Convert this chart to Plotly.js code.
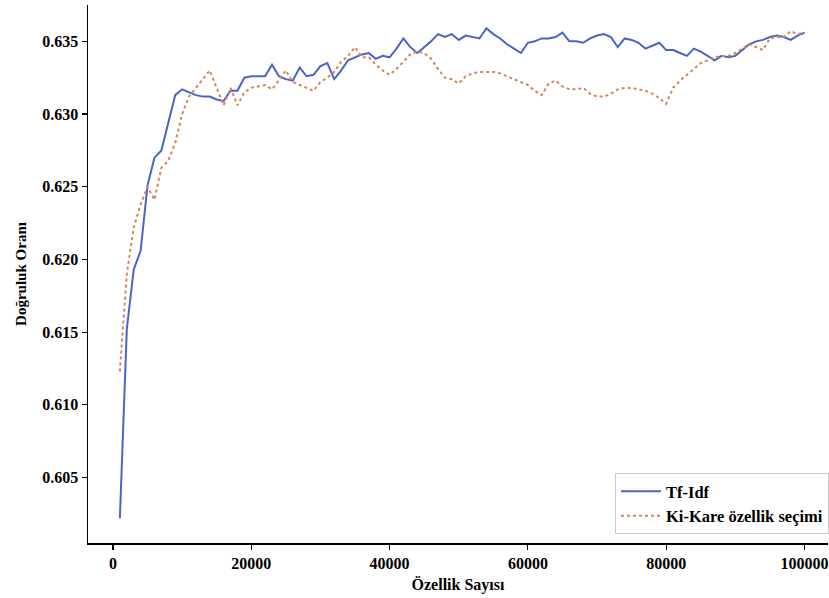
<!DOCTYPE html>
<html>
<head>
<meta charset="utf-8">
<script src="https://cdn.plot.ly/plotly-3.0.1.min.js"></script>
<style>html,body{margin:0;padding:0;background:#fff;}#chart{width:829px;height:598px;}</style>
</head>
<body>
<div id="chart"></div>
<script>
// Özellik sayısı (x)
const featureCounts = [
  1000,2000,3000,4000,5000,6000,7000,8000,9000,10000,
  11000,12000,13000,14000,15000,16000,17000,18000,19000,20000,
  21000,22000,23000,24000,25000,26000,27000,28000,29000,30000,
  31000,32000,33000,34000,35000,36000,37000,38000,39000,40000,
  41000,42000,43000,44000,45000,46000,47000,48000,49000,50000,
  51000,52000,53000,54000,55000,56000,57000,58000,59000,60000,
  61000,62000,63000,64000,65000,66000,67000,68000,69000,70000,
  71000,72000,73000,74000,75000,76000,77000,78000,79000,80000,
  81000,82000,83000,84000,85000,86000,87000,88000,89000,90000,
  91000,92000,93000,94000,95000,96000,97000,98000,99000,100000
];

// Tf-Idf doğruluk oranı
const tfidfAcc = [
  0.6022,0.6152,0.6193,0.6206,0.6251,0.6270,0.6275,0.6295,0.6313,0.6317,
  0.6315,0.6313,0.6312,0.6312,0.6310,0.6309,0.6316,0.6316,0.6325,0.6326,
  0.6326,0.6326,0.6334,0.6326,0.6324,0.6323,0.6332,0.6326,0.6327,0.6333,
  0.6335,0.6324,0.6330,0.6337,0.6339,0.6341,0.6342,0.6338,0.6340,0.6339,
  0.6345,0.6352,0.6346,0.6342,0.6346,0.6350,0.6355,0.6353,0.6355,0.6351,
  0.6354,0.6353,0.6352,0.6359,0.6355,0.6352,0.6348,0.6345,0.6342,0.6349,
  0.6350,0.6352,0.6352,0.6353,0.6356,0.6350,0.6350,0.6349,0.6352,0.6354,
  0.6355,0.6353,0.6346,0.6352,0.6351,0.6349,0.6345,0.6347,0.6349,0.6344,
  0.6344,0.6342,0.6340,0.6345,0.6343,0.6340,0.6337,0.6340,0.6339,0.6340,
  0.6344,0.6348,0.6350,0.6351,0.6353,0.6354,0.6353,0.6351,0.6354,0.6356
];

// Ki-Kare özellik seçimi doğruluk oranı
const chiAcc = [
  0.6123,0.6190,0.6222,0.6238,0.6250,0.6241,0.6263,0.6268,0.6280,0.6300,
  0.6312,0.6318,0.6324,0.6330,0.6318,0.6306,0.6318,0.6306,0.6315,0.6318,
  0.6319,0.6320,0.6317,0.6323,0.6330,0.6322,0.6320,0.6318,0.6316,0.6322,
  0.6325,0.6329,0.6336,0.6340,0.6346,0.6339,0.6339,0.6334,0.6330,0.6327,
  0.6331,0.6336,0.6341,0.6343,0.6342,0.6338,0.6331,0.6325,0.6324,0.6321,
  0.6326,0.6328,0.6329,0.6329,0.6329,0.6328,0.6326,0.6324,0.6322,0.6320,
  0.6316,0.6313,0.6321,0.6323,0.6319,0.6317,0.6317,0.6318,0.6314,0.6312,
  0.6312,0.6314,0.6317,0.6318,0.6318,0.6317,0.6316,0.6314,0.6311,0.6307,
  0.6318,0.6323,0.6327,0.6331,0.6335,0.6337,0.6339,0.6340,0.6340,0.6342,
  0.6345,0.6348,0.6346,0.6344,0.6352,0.6353,0.6353,0.6357,0.6355,0.6356
];

const seriesNames = ["Tf-Idf", "Ki-Kare özellik seçimi"];
const xTicks = [0, 20000, 40000, 60000, 80000, 100000];
const yTicks = [0.605, 0.610, 0.615, 0.620, 0.625, 0.630, 0.635];

const boldFont = {family: "'Liberation Serif', 'Times New Roman', serif", size: 16, color: "#000", weight: 700};

const traces = [
  {x: featureCounts, y: tfidfAcc, name: seriesNames[0], type: "scatter", mode: "lines",
   line: {color: "#4a63c6", width: 2}},
  {x: featureCounts, y: chiAcc, name: seriesNames[1], type: "scatter", mode: "lines",
   line: {color: "#d8845a", width: 2, dash: "dot"}}
];

const layout = {
  width: 829, height: 598,
  margin: {l: 88, r: 0, t: 5, b: 55},
  paper_bgcolor: "#fff", plot_bgcolor: "#fff",
  font: boldFont,
  showlegend: true,
  legend: {x: 0.7126, y: 0.13, xanchor: "left", yanchor: "top",
           bordercolor: "#cccccc", borderwidth: 1, bgcolor: "rgba(255,255,255,0.8)",
           font: Object.assign({}, boldFont, {size: 16.5}), tracegroupgap: 0, itemwidth: 40},
  xaxis: {
    range: [-3610, 103400],
    tickvals: xTicks, ticktext: xTicks.map(String),
    ticks: "outside", ticklen: 5, tickwidth: 1.2, tickcolor: "#000",
    showline: true, linecolor: "#000", linewidth: 1.5,
    showgrid: false, zeroline: false,
    tickfont: boldFont,
    title: {text: "Özellik Sayısı", font: boldFont, standoff: 8}
  },
  yaxis: {
    range: [0.6005, 0.6375],
    tickvals: yTicks, ticktext: yTicks.map(v => v.toFixed(3)),
    ticks: "outside", ticklen: 5, tickwidth: 1.2, tickcolor: "#000",
    showline: true, linecolor: "#000", linewidth: 1.5,
    showgrid: false, zeroline: false,
    tickfont: boldFont,
    title: {text: "Doğruluk Oranı", font: Object.assign({}, boldFont, {size: 15}), standoff: 12}
  }
};

Plotly.newPlot("chart", traces, layout, {staticPlot: true, displayModeBar: false});
</script>
</body>
</html>
